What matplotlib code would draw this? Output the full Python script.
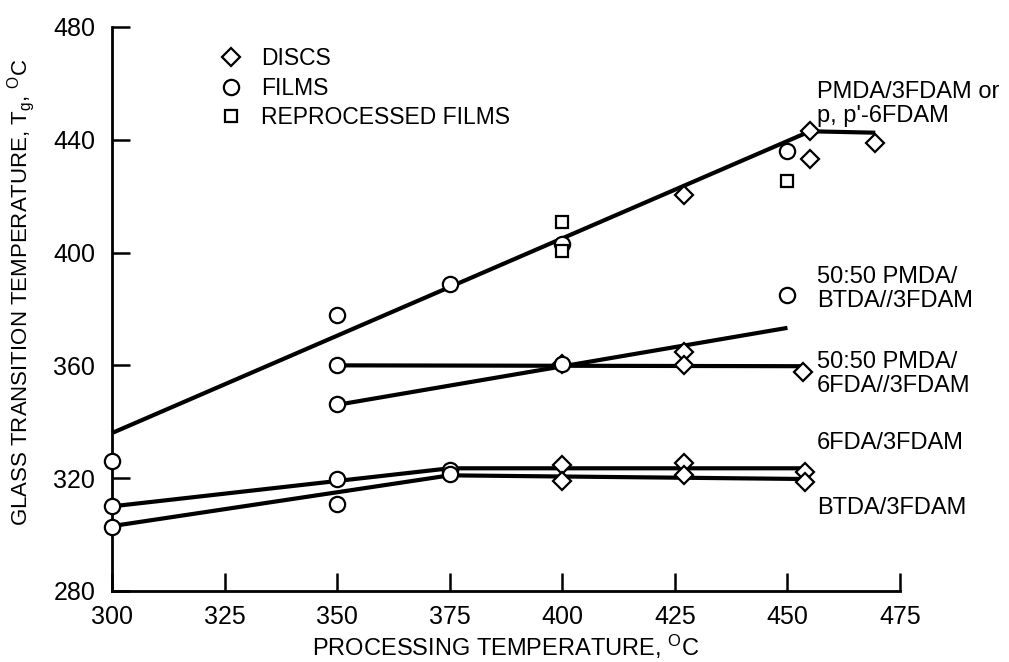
import numpy as np
import matplotlib
matplotlib.use('Agg')
import matplotlib.pyplot as plt

plt.rcParams['font.family'] = ['Liberation Sans', 'DejaVu Sans']
plt.rcParams['mathtext.fontset'] = 'custom'
plt.rcParams['mathtext.rm'] = 'Liberation Sans'
plt.rcParams['mathtext.it'] = 'Liberation Sans'

#  Fitted lines (processing temp, Tg)
line_pmda_x = [300, 455, 469.5]
line_pmda_y = [336, 443, 442.5]
line_btda50_x = [350, 450]
line_btda50_y = [346, 373.3]
line_6fda50_x = [350, 453.5]
line_6fda50_y = [360, 359.7]
line_6fda_x = [300, 375, 454]
line_6fda_y = [310, 323.5, 323.5]
line_btda_x = [300, 375, 454]
line_btda_y = [303, 321, 319.7]

#  Measured points
discs_x = [400, 427, 427, 453.5, 400, 400, 427, 427, 454, 454, 427, 455, 455, 469.5]
discs_y = [360.5, 364.7, 360, 357.7, 324.5, 319, 325.4, 321, 322.2, 318.6, 420.4, 443, 433, 439]
films_x = [300, 300, 300, 350, 350, 350, 350, 350, 375, 375, 375, 400, 400, 450, 450]
films_y = [326, 310, 302.7, 378, 360, 346.3, 319.7, 311, 389, 323, 321.5, 403, 360.5, 436, 385]
reproc_x = [400, 400, 450]
reproc_y = [411, 400.6, 425.4]

#  Curve labels
curve_labels = ["PMDA/3FDAM or\np, p'-6FDAM", "50:50 PMDA/\nBTDA//3FDAM",
                "50:50 PMDA/\n6FDA//3FDAM", "6FDA/3FDAM", "BTDA/3FDAM"]
label_y = [452.7, 387.1, 357.0, 332.5, 309.4]

fig = plt.figure(figsize=(10.09, 6.62), dpi=100)
ax = fig.add_axes([0.111, 0.1073, 0.781, 0.852])

for xs, ys in [(line_pmda_x, line_pmda_y), (line_btda50_x, line_btda50_y),
               (line_6fda50_x, line_6fda50_y), (line_6fda_x, line_6fda_y),
               (line_btda_x, line_btda_y)]:
    ax.plot(xs, ys, color='black', lw=3, solid_capstyle='butt', zorder=2, clip_on=False)

mk = dict(linestyle='none', markerfacecolor='white', markeredgecolor='black',
          markeredgewidth=1.6, clip_on=False, zorder=3)
ax.plot(discs_x, discs_y, marker='D', markersize=9, label='DISCS', **mk)
ax.plot(films_x, films_y, marker='o', markersize=11, label='FILMS', **mk)
ax.plot(reproc_x, reproc_y, marker='s', markersize=9, label='REPROCESSED FILMS', **mk)

for txt, yy in zip(curve_labels, label_y):
    ax.text(456.5, yy, txt, fontsize=17, va='center', ha='left', linespacing=1.15)

leg = ax.legend(loc='upper left', bbox_to_anchor=(0.125, 0.98), frameon=False,
                fontsize=16.5, handlelength=1.0, handletextpad=0.8, labelspacing=0.28,
                borderaxespad=0)

ax.set_xlim(300, 475)
ax.set_ylim(280, 480)
ax.set_xticks([300, 325, 350, 375, 400, 425, 450, 475])
ax.set_yticks([280, 320, 360, 400, 440, 480])
ax.spines['top'].set_visible(False)
ax.spines['right'].set_visible(False)
ax.spines['left'].set_linewidth(2)
ax.spines['bottom'].set_linewidth(2)
ax.tick_params(direction='in', length=13, width=1.8, labelsize=18, colors='black')
ax.tick_params(axis='x', pad=10)
ax.tick_params(axis='y', pad=12)

ax.set_xlabel(r'PROCESSING TEMPERATURE, $^{\rm O}$C', fontsize=17)
ax.xaxis.set_label_coords(0.5, -0.075)
ax.set_ylabel(r'GLASS TRANSITION TEMPERATURE, T$_{\rm g}$, $^{\rm O}$C', fontsize=16)
ax.yaxis.set_label_coords(-0.095, 0.53)

plt.savefig('out.png', dpi=100)
